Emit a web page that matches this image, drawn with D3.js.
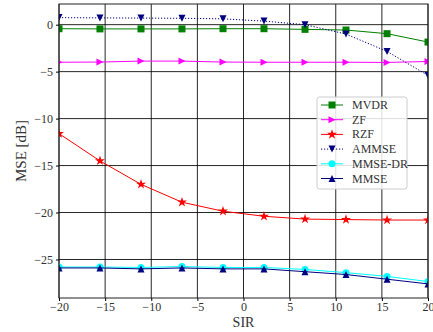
<!DOCTYPE html>
<html>
<head>
<meta charset="utf-8">
<script src="https://cdn.jsdelivr.net/npm/d3@7"></script>
<style>
  body { margin: 0; background: #fff; }
  svg { display: block; font-family: "Liberation Serif", "DejaVu Serif", serif; }
</style>
</head>
<body>
<div id="chart"></div>
<script>
// SIR values (10 points)
const sir = [-20, -15.56, -11.11, -6.67, -2.22, 2.22, 6.67, 11.11, 15.56, 20];

// MSE [dB] per method
const mvdr    = [-0.43, -0.45, -0.45, -0.45, -0.43, -0.43, -0.5, -0.57, -0.96, -1.85];
const zf      = [-4.0, -3.98, -3.88, -3.88, -3.98, -4.0, -4.0, -4.0, -4.02, -3.92];
const rzf     = [-11.6, -14.5, -17.0, -18.9, -19.86, -20.4, -20.7, -20.75, -20.8, -20.8];
const ammse   = [0.75, 0.72, 0.7, 0.68, 0.62, 0.38, 0.0, -1.0, -2.85, -5.4];
const mmseDr  = [-25.8, -25.8, -25.85, -25.75, -25.85, -25.85, -26.06, -26.4, -26.8, -27.35];
const mmse    = [-25.9, -25.9, -26.0, -25.9, -26.0, -26.0, -26.3, -26.6, -27.1, -27.6];

const xTicks = [-20, -15, -10, -5, 0, 5, 10, 15, 20];
const yTicks = [0, -5, -10, -15, -20, -25];

const series = [
    { name: 'MVDR', values: mvdr, color: '#008000', marker: 'square', dash: null },
    { name: 'ZF', values: zf, color: '#ff00ff', marker: 'triRight', dash: null },
    { name: 'RZF', values: rzf, color: '#ff0000', marker: 'star', dash: null },
    { name: 'AMMSE', values: ammse, color: '#000080', marker: 'triDown', dash: '1.2,1.8' },
    { name: 'MMSE-DR', values: mmseDr, color: '#00ffff', marker: 'circle', dash: null },
    { name: 'MMSE', values: mmse, color: '#000080', marker: 'triUp', dash: null }
];

const W = 433, H = 332;
const margin = { top: 4, right: 5, bottom: 34, left: 59 };
const width = W - margin.left - margin.right;
const height = H - margin.top - margin.bottom;

const svg = d3.select('#chart').append('svg')
    .attr('width', W)
    .attr('height', H);

svg.append('defs').append('clipPath')
    .attr('id', 'plot-clip')
    .append('rect')
    .attr('width', width)
    .attr('height', height);

const g = svg.append('g')
    .attr('transform', `translate(${margin.left},${margin.top})`);

const x = d3.scaleLinear().domain([-20, 20]).range([0, width]);
const y = d3.scaleLinear().domain([-29.1, 2.2]).range([height, 0]);

// Grid
g.append('g')
    .selectAll('line')
    .data(xTicks)
    .join('line')
    .attr('x1', d => x(d)).attr('x2', d => x(d))
    .attr('y1', 0).attr('y2', height)
    .attr('stroke', '#000')
    .attr('stroke-opacity', 0.85)
    .attr('stroke-width', 1);

g.append('g')
    .selectAll('line')
    .data(yTicks)
    .join('line')
    .attr('x1', 0).attr('x2', width)
    .attr('y1', d => y(d)).attr('y2', d => y(d))
    .attr('stroke', '#000')
    .attr('stroke-opacity', 0.85)
    .attr('stroke-width', 1);

// Marker shapes
function markerPath(type, s) {
    switch (type) {
        case 'square': return d3.symbol(d3.symbolSquare, s * s)();
        case 'circle': return d3.symbol(d3.symbolCircle, Math.PI * (s / 2) * (s / 2))();
        case 'star': return d3.symbol(d3.symbolStar, s * s * 0.55)();
        case 'triUp': {
            const r = s / 2;
            return `M0,${-r}L${r},${r}L${-r},${r}Z`;
        }
        case 'triDown': {
            const r = s / 2;
            return `M0,${r}L${r},${-r}L${-r},${-r}Z`;
        }
        case 'triRight': {
            const r = s / 2;
            return `M${r},0L${-r},${r}L${-r},${-r}Z`;
        }
    }
}
const markerSize = m => (m === 'star' ? 7.5 : 7);

const line = d3.line()
    .x((d, i) => x(sir[i]))
    .y(d => y(d));

const plot = g.append('g').attr('clip-path', 'url(#plot-clip)');

series.forEach(s => {
    plot.append('path')
        .datum(s.values)
        .attr('fill', 'none')
        .attr('stroke', s.color)
        .attr('stroke-width', 1)
        .attr('stroke-dasharray', s.dash)
        .attr('d', line);

    plot.append('g')
        .selectAll('path')
        .data(s.values)
        .join('path')
        .attr('transform', (d, i) => `translate(${x(sir[i])},${y(d)})`)
        .attr('d', markerPath(s.marker, markerSize(s.marker)))
        .attr('fill', s.color);
});

// Frame
g.append('rect')
    .attr('width', width)
    .attr('height', height)
    .attr('fill', 'none')
    .attr('stroke', '#222')
    .attr('stroke-width', 1);

// Axes
const fmt = d => (d < 0 ? '\u2212' + Math.abs(d) : String(d));

const xAxis = g.append('g')
    .attr('transform', `translate(0,${height})`)
    .call(d3.axisBottom(x).tickValues(xTicks).tickSize(3).tickPadding(1).tickFormat(fmt));
xAxis.select('.domain').remove();
xAxis.selectAll('text').attr('fill', '#333').style('font-size', '12px')
    .style('font-family', '"Liberation Serif", serif');

const yAxis = g.append('g')
    .call(d3.axisLeft(y).tickValues(yTicks).tickSize(3).tickPadding(3).tickFormat(fmt));
yAxis.select('.domain').remove();
yAxis.selectAll('text').attr('fill', '#333').style('font-size', '12px')
    .style('font-family', '"Liberation Serif", serif');

// Axis labels
svg.append('text')
    .attr('x', margin.left + width / 2)
    .attr('y', 327)
    .attr('text-anchor', 'middle')
    .attr('fill', '#333')
    .style('font-size', '14px')
    .text('SIR');

svg.append('text')
    .attr('transform', `translate(26,${margin.top + height / 2}) rotate(-90)`)
    .attr('text-anchor', 'middle')
    .attr('fill', '#333')
    .style('font-size', '15px')
    .text('MSE [dB]');

// Legend
const legend = svg.append('g').attr('transform', 'translate(317,97)');
legend.append('rect')
    .attr('width', 90)
    .attr('height', 92)
    .attr('rx', 2.5)
    .attr('fill', '#fff')
    .attr('fill-opacity', 0.85)
    .attr('stroke', '#ccc')
    .attr('stroke-width', 1);

series.forEach((s, i) => {
    const row = legend.append('g').attr('transform', `translate(0,${8 + i * 14.7})`);
    row.append('line')
        .attr('x1', 4).attr('x2', 26)
        .attr('stroke', s.color)
        .attr('stroke-width', 1)
        .attr('stroke-dasharray', s.dash);
    row.append('path')
        .attr('transform', 'translate(15,0)')
        .attr('d', markerPath(s.marker, markerSize(s.marker)))
        .attr('fill', s.color);
    row.append('text')
        .attr('x', 35)
        .attr('y', 4)
        .attr('fill', '#333')
        .style('font-size', '12px')
        .text(s.name);
});
</script>
</body>
</html>
